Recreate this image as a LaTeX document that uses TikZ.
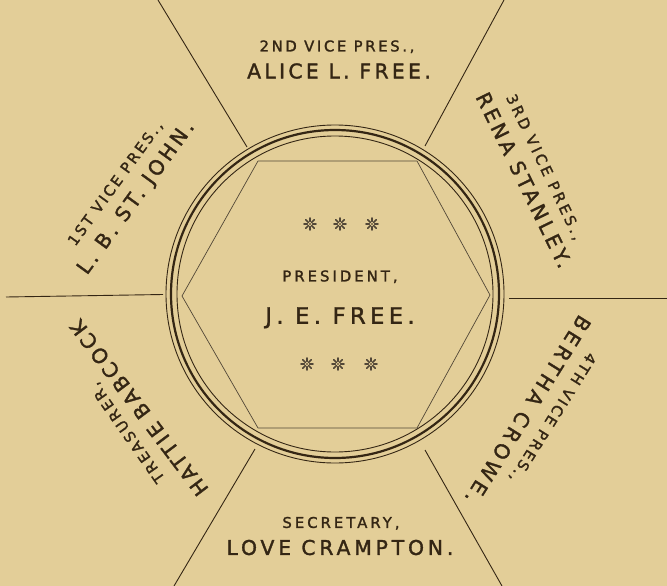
\documentclass[tikz,border=0pt]{standalone}
\usepackage{fontspec}
\newfontfamily\ds[FakeBold=1.6]{DejaVu Sans}
\newcommand\lsp[1]{\addfontfeature{LetterSpace=#1}}
\definecolor{paper}{RGB}{227,206,152}
\definecolor{ink}{RGB}{52,38,20}
\tikzset{
  every node/.style={inner sep=0pt, outer sep=0pt, text=ink},
  lbl/.style={font=\ds\fontsize{14.8}{14.8}\selectfont, text height=10.8pt, text depth=0pt},
  nam/.style={font=\ds\fontsize{20.3}{20.3}\selectfont, text height=14.8pt, text depth=0pt},
  big/.style={font=\ds\fontsize{22.6}{22.6}\selectfont, text height=16.5pt, text depth=0pt},
  rule/.style={draw=ink, line width=0.9pt},
  thinring/.style={draw=ink, line width=0.9pt},
  thickring/.style={draw=ink, line width=2.2pt},
  hexline/.style={draw=ink!85, line width=0.7pt, line join=round},
  flower/.pic={
    \foreach \a in {0,45,...,315}{\draw[ink!85, line width=1.6pt, line cap=round] (\a:2.5pt) -- (\a:6pt);}
    \fill[ink] (0,0) circle[radius=0.9pt];
  }
}
\begin{document}
\begin{tikzpicture}[x=1pt,y=-1pt]
\fill[paper] (0,0) rectangle (667,586);
\useasboundingbox (0,0) rectangle (667,586);
% rings
\coordinate (c) at (335,294);
\draw[thinring] (c) circle[radius=169pt];
\draw[thickring] (c) circle[radius=164pt];
\draw[thinring] (c) circle[radius=158pt];
% hexagon
\coordinate (h1) at (182,296);
\coordinate (h2) at (258,161);
\coordinate (h3) at (417,161);
\coordinate (h4) at (490,295);
\coordinate (h5) at (417,428);
\coordinate (h6) at (258,428);
\draw[hexline] (h1) -- (h2) -- (h3) -- (h4) -- (h5) -- (h6) -- cycle;
% radial rules
\coordinate (lA) at (6,297);   \coordinate (lB) at (163,294.5);
\coordinate (rA) at (509,298); \coordinate (rB) at (667,298);
\coordinate (tlA) at (158,0);  \coordinate (tlB) at (247,147);
\coordinate (trA) at (504,0);  \coordinate (trB) at (425,146);
\coordinate (blA) at (255,449); \coordinate (blB) at (174,586);
\coordinate (brA) at (425,450); \coordinate (brB) at (502,586);
\draw[rule] (lA) -- (lB);
\draw[rule] (rA) -- (rB);
\draw[rule] (tlA) -- (tlB);
\draw[rule] (trA) -- (trB);
\draw[rule] (blA) -- (blB);
\draw[rule] (brA) -- (brB);
% stars
\pic at (310,224) {flower};
\pic at (340,224) {flower};
\pic at (372,224) {flower};
\pic at (307,364) {flower};
\pic at (338,364) {flower};
\pic at (371,364) {flower};
% centre
\node[lbl] (presl) at (340,276) {\lsp{20.5}PRESIDENT,};
\node[big] (presn) at (340,315.5) {\lsp{19.5}J. E. FREE.};
% top
\node[lbl] (vp2l) at (337,46) {\lsp{18}2ND VICE PRES.,};
\node[nam] (vp2n) at (339,71) {\lsp{16.5}ALICE L. FREE.};
% bottom
\node[lbl] (secl) at (341,522.5) {\lsp{20.5}SECRETARY,};
\node[nam] (secn) at (340,547.5) {\lsp{19}LOVE CRAMPTON.};
% upper left
\node[lbl, rotate=54] (vp1l) at (115,183) {\lsp{17.5}1ST VICE PRES.,};
\node[nam, rotate=54] (vp1n) at (135,197) {\lsp{17}L. B. ST. JOHN.};
% upper right
\node[lbl, rotate=-64.5] (vp3l) at (545,167) {\lsp{21}3RD VICE PRES.,};
\node[nam, rotate=-64] (vp3n) at (524,180) {\lsp{17}RENA STANLEY.};
% lower left
\node[nam, rotate=127] (trn) at (139,408) {\lsp{15.5}HATTIE BABCOCK};
\node[lbl, rotate=125] (trl) at (127,433) {\lsp{18.5}TREASURER,};
% lower right
\node[nam, rotate=238] (vp4n) at (528,410) {\lsp{21}BERTHA CROWE.};
\node[lbl, rotate=238] (vp4l) at (553,418) {\lsp{16.5}4TH VICE PRES.,};
\end{tikzpicture}
\end{document}
